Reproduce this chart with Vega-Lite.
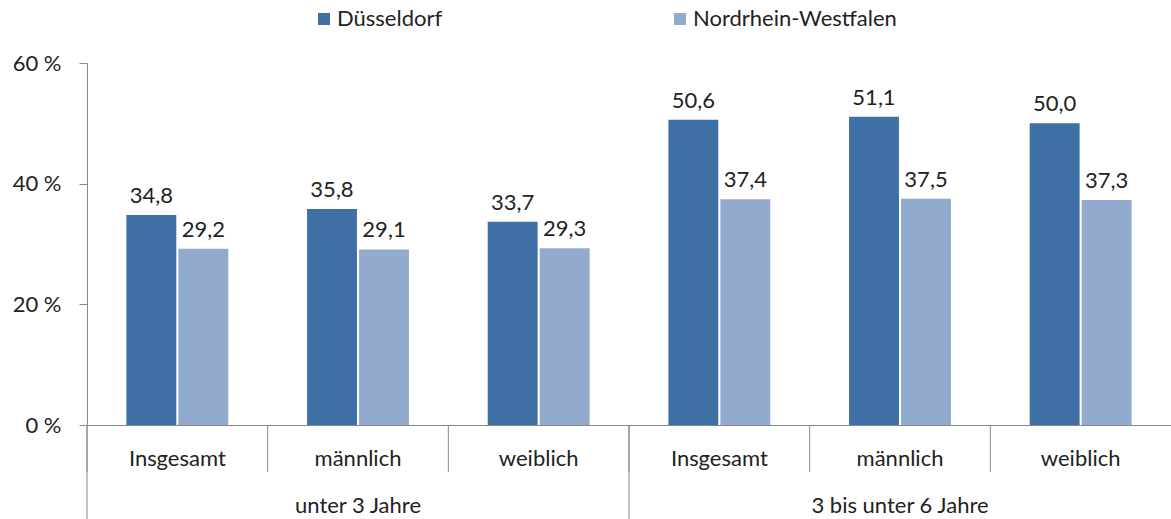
{
  "$schema": "https://vega.github.io/schema/vega-lite/v6.json",
  "width": 1084,
  "height": 362,
  "autosize": {"type": "none"},
  "padding": {"left": 87, "top": 63, "right": 0, "bottom": 94},
  "config": {
    "view": {"stroke": null},
    "font": "Lato"
  },
  "data": {
    "values": [
      {"kat": "unter 3 Jahre|Insgesamt", "gruppe": "unter 3 Jahre", "region": "Düsseldorf", "wert": 34.8, "beschriftung": "34,8"},
      {"kat": "unter 3 Jahre|Insgesamt", "gruppe": "unter 3 Jahre", "region": "Nordrhein-Westfalen", "wert": 29.2, "beschriftung": "29,2"},
      {"kat": "unter 3 Jahre|männlich", "gruppe": "unter 3 Jahre", "region": "Düsseldorf", "wert": 35.8, "beschriftung": "35,8"},
      {"kat": "unter 3 Jahre|männlich", "gruppe": "unter 3 Jahre", "region": "Nordrhein-Westfalen", "wert": 29.1, "beschriftung": "29,1"},
      {"kat": "unter 3 Jahre|weiblich", "gruppe": "unter 3 Jahre", "region": "Düsseldorf", "wert": 33.7, "beschriftung": "33,7"},
      {"kat": "unter 3 Jahre|weiblich", "gruppe": "unter 3 Jahre", "region": "Nordrhein-Westfalen", "wert": 29.3, "beschriftung": "29,3"},
      {"kat": "3 bis unter 6 Jahre|Insgesamt", "gruppe": "3 bis unter 6 Jahre", "region": "Düsseldorf", "wert": 50.6, "beschriftung": "50,6"},
      {"kat": "3 bis unter 6 Jahre|Insgesamt", "gruppe": "3 bis unter 6 Jahre", "region": "Nordrhein-Westfalen", "wert": 37.4, "beschriftung": "37,4"},
      {"kat": "3 bis unter 6 Jahre|männlich", "gruppe": "3 bis unter 6 Jahre", "region": "Düsseldorf", "wert": 51.1, "beschriftung": "51,1"},
      {"kat": "3 bis unter 6 Jahre|männlich", "gruppe": "3 bis unter 6 Jahre", "region": "Nordrhein-Westfalen", "wert": 37.5, "beschriftung": "37,5"},
      {"kat": "3 bis unter 6 Jahre|weiblich", "gruppe": "3 bis unter 6 Jahre", "region": "Düsseldorf", "wert": 50.0, "beschriftung": "50,0"},
      {"kat": "3 bis unter 6 Jahre|weiblich", "gruppe": "3 bis unter 6 Jahre", "region": "Nordrhein-Westfalen", "wert": 37.3, "beschriftung": "37,3"}
    ]
  },
  "layer": [
    {
      "mark": {"type": "bar"},
      "encoding": {
        "x": {
          "field": "kat",
          "type": "nominal",
          "sort": null,
          "scale": {"paddingInner": 0, "paddingOuter": 0},
          "axis": {
            "title": null,
            "domainColor": "#888888",
            "ticks": false,
            "labelFontSize": 22,
            "labelColor": "#222222",
            "labelBaseline": "alphabetic",
            "labelPadding": 40,
            "labelAngle": 0,
            "labelOverlap": false,
            "labelExpr": "split(datum.value, '|')[1]"
          }
        },
        "xOffset": {"field": "region", "type": "nominal", "scale": {"paddingInner": 0.04, "paddingOuter": 0.757}},
        "y": {
          "field": "wert",
          "type": "quantitative",
          "scale": {"domain": [0, 60]},
          "axis": {
            "title": null,
            "values": [0, 20, 40, 60],
            "grid": false,
            "domainColor": "#888888",
            "tickColor": "#888888",
            "tickSize": 8,
            "labelPadding": 18,
            "labelFontSize": 22,
            "labelColor": "#222222",
            "labelExpr": "datum.value + ' %'"
          }
        },
        "color": {
          "field": "region",
          "type": "nominal",
          "scale": {"domain": ["Düsseldorf", "Nordrhein-Westfalen"], "range": ["#3E70A6", "#93AACF"]},
          "legend": {
            "title": null,
            "orient": "none",
            "legendX": 226,
            "legendY": -55,
            "direction": "horizontal",
            "symbolType": "square",
            "symbolSize": 144,
            "symbolStrokeWidth": 0,
            "labelFontSize": 22,
            "labelColor": "#222222",
            "labelOffset": 2,
            "labelLimit": 400,
            "columnPadding": 226
          }
        }
      }
    },
    {
      "mark": {"type": "text", "baseline": "alphabetic", "dy": -12, "fontSize": 22, "color": "#222222"},
      "encoding": {
        "x": {"field": "kat", "type": "nominal", "sort": null},
        "xOffset": {"field": "region", "type": "nominal"},
        "y": {"field": "wert", "type": "quantitative"},
        "text": {"field": "beschriftung", "type": "nominal"}
      }
    },
    {
      "transform": [{"filter": "datum.region == 'Düsseldorf'"}],
      "mark": {"type": "rule", "color": "#888888"},
      "encoding": {
        "x": {"field": "kat", "type": "nominal", "sort": null, "bandPosition": 0},
        "y": {"datum": 0},
        "y2": {"datum": -7.79}
      }
    },
    {
      "transform": [{"filter": "datum.region == 'Düsseldorf' && indexof(datum.kat, 'Insgesamt') >= 0"}],
      "mark": {"type": "rule", "color": "#888888"},
      "encoding": {
        "x": {"field": "kat", "type": "nominal", "sort": null, "bandPosition": 0},
        "y": {"datum": 0},
        "y2": {"datum": -15.6}
      }
    },
    {
      "transform": [{"filter": "datum.region == 'Düsseldorf' && indexof(datum.kat, 'männlich') >= 0"}],
      "mark": {"type": "text", "baseline": "alphabetic", "fontSize": 22, "color": "#222222"},
      "encoding": {
        "x": {"field": "kat", "type": "nominal", "sort": null},
        "y": {"datum": -14.6},
        "text": {"field": "gruppe", "type": "nominal"}
      }
    }
  ]
}
